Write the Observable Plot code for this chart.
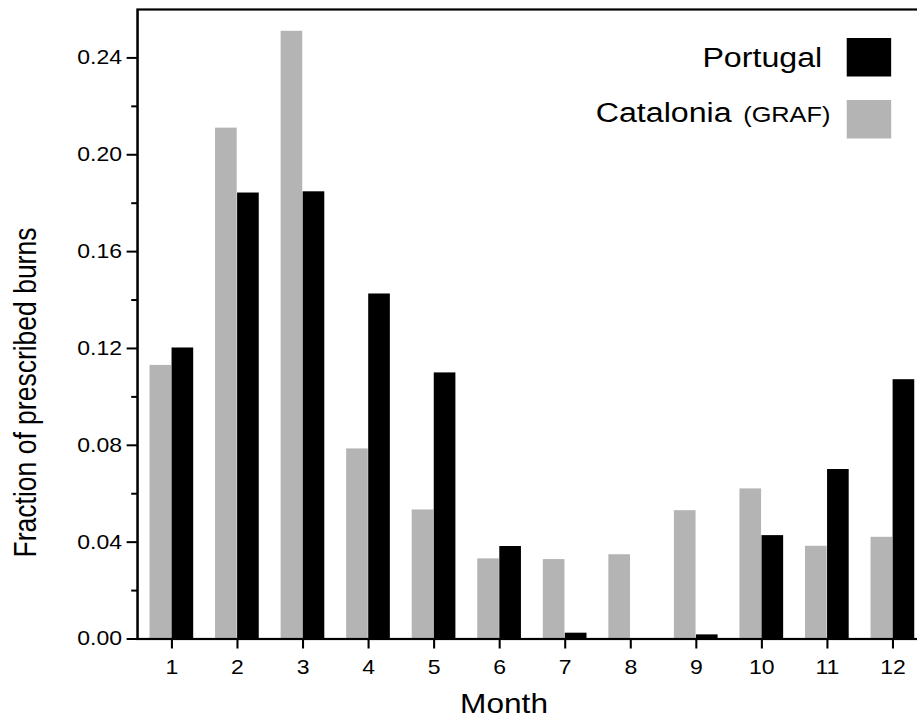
<!DOCTYPE html>
<html><head><meta charset="utf-8">
<script src="https://cdn.jsdelivr.net/npm/d3@7"></script>
<script src="https://cdn.jsdelivr.net/npm/@observablehq/plot@0.6"></script>
<style>
html,body{margin:0;padding:0;background:#fff;overflow:hidden;width:917px;height:719px;}
#wrap{transform:scaleX(1.15);transform-origin:0 0;width:812px;}
</style></head><body><div id="wrap"></div>
<script>
// ---- data ----
const months = [1, 2, 3, 4, 5, 6, 7, 8, 9, 10, 11, 12];
const catalonia = [0.113, 0.211, 0.251, 0.0785, 0.0533, 0.0331, 0.0328, 0.0348, 0.0530, 0.0620, 0.0383, 0.0420];
const portugal  = [0.1202, 0.1842, 0.1847, 0.1425, 0.1099, 0.0382, 0.0024, 0, 0.0017, 0.0427, 0.0700, 0.1071];
const majorTicks = [0, 0.04, 0.08, 0.12, 0.16, 0.20, 0.24];
const minorTicks = [0.02, 0.06, 0.10, 0.14, 0.18, 0.22];
const legendLabels = ["Portugal", "Catalonia"];
const legendNote = ["(GRAF)"];
const xLabel = ["Month"];
const yLabel = ["Fraction of prescribed burns"];

// ---- layout / style ----
const colors = {Portugal: "#000000", Catalonia: "#b4b4b4"};
const W = 812, H = 719, mL = 119.1, mR = 5.9, mT = 9, mB = 80.5;
const padIn = 0.33;
const half = (W - mL - mR) / months.length * (1 - padIn) / 2;

const rows = months.map((m, i) => ({month: m, catalonia: catalonia[i], portugal: portugal[i]}));

const chart = Plot.plot({
  width: W, height: H,
  marginLeft: mL, marginRight: mR, marginTop: mT, marginBottom: mB,
  style: {fontFamily: "'Liberation Sans', Arial, sans-serif", color: "black", background: "white", overflow: "visible"},
  x: {type: "band", domain: months, paddingInner: padIn, paddingOuter: padIn / 2},
  y: {domain: [0, 0.26]},
  marks: [
    Plot.barY(rows, {x: "month", y: "catalonia", fill: colors.Catalonia, insetRight: half}),
    Plot.barY(rows, {x: "month", y: "portugal", fill: colors.Portugal, insetLeft: half}),
    Plot.frame({stroke: "black", strokeWidth: 2.2}),
    Plot.axisY(minorTicks, {tickSize: 5, fill: "none", label: null, strokeWidth: 2}),
    Plot.axisY(majorTicks, {tickSize: 9, tickPadding: 4.5, tickFormat: d3.format(".2f"), fontSize: 20, label: null, strokeWidth: 2}),
    Plot.axisX({tickSize: 10, tickPadding: 11, fontSize: 20, label: null, strokeWidth: 1.8}),
    Plot.text(xLabel, {frameAnchor: "bottom", text: d => d, textAnchor: "middle", dx: -24.8, dy: 74, lineAnchor: "bottom", fontSize: 27.5}),
    Plot.text(yLabel, {frameAnchor: "left", text: d => d, rotate: -90, textAnchor: "middle", dx: -88.7, dy: 68.25, lineAnchor: "bottom", fontSize: 26.5}),
    // legend
    Plot.dot([legendLabels[0]], {frameAnchor: "top-right", dx: -51, dy: 47.7, symbol: "square", r: 21.8, fill: colors.Portugal}),
    Plot.dot([legendLabels[1]], {frameAnchor: "top-right", dx: -51, dy: 109.7, symbol: "square", r: 21.8, fill: colors.Catalonia}),
    Plot.text([legendLabels[0]], {frameAnchor: "top-right", text: d => d, textAnchor: "end", lineAnchor: "bottom", dx: -91.6, dy: 57.7, fontSize: 28}),
    Plot.text([legendLabels[1]], {frameAnchor: "top-right", text: d => d, textAnchor: "end", lineAnchor: "bottom", dx: -170.4, dy: 112.7, fontSize: 28}),
    Plot.text(legendNote, {frameAnchor: "top-right", text: d => d, textAnchor: "start", lineAnchor: "bottom", dx: -160.3, dy: 112.7, fontSize: 22})
  ]
});
document.getElementById("wrap").appendChild(chart);
</script>
</body></html>
